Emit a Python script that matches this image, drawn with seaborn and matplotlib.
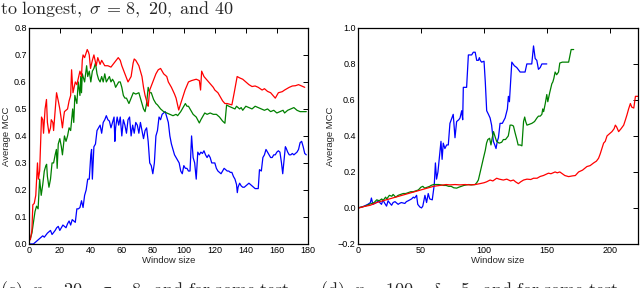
"""Average MCC against window size, two panels, rebuilt with seaborn."""

import matplotlib

matplotlib.use("Agg")
import matplotlib.pyplot as plt  # noqa: E402
import numpy as np  # noqa: E402
import seaborn as sns  # noqa: E402

# ---- panel (c): window size 0..180 -------------------------------------
c_blue_x = [1, 3, 5, 7, 9, 10, 12, 13, 14, 15, 17, 18, 19, 20, 21, 22, 23, 24, 25, 26,
            27, 28, 29, 30, 31, 32, 33, 34, 35, 36, 37, 38, 39, 40, 40.5, 41, 42, 43, 44,
            45, 46, 47, 48, 49, 50, 51, 52, 53, 54, 55, 55.5, 56, 57, 58, 59, 60, 61, 62,
            63, 64, 65, 66, 67, 68, 69, 70, 71, 72, 73, 74, 75, 76, 77, 78, 79, 80, 81,
            82, 83, 84, 85, 86, 88, 89, 90, 91, 92, 93, 94, 95, 96, 97, 98, 99, 100, 101,
            102, 103, 104, 105, 106, 107, 108, 109, 110, 111, 112, 113, 114, 115, 116,
            117, 118, 119, 120, 121, 122, 123, 124, 125, 126, 127, 128, 129, 130, 131,
            132, 133, 134, 134.5, 135, 136, 137, 138, 139, 140, 141, 142, 143, 144, 145,
            146, 147, 148, 148.8, 150, 151, 152, 153, 154, 155, 156, 157, 158, 159, 160,
            161, 162, 163, 163.8, 164.5, 165.5, 166, 167, 168, 169, 170, 171, 172, 173,
            174, 175, 176, 177, 178, 179]
c_blue_y = [0.0, 0.0, 0.01, 0.02, 0.03, 0.025, 0.04, 0.045, 0.05, 0.035, 0.05, 0.06, 0.065,
            0.05, 0.06, 0.07, 0.065, 0.06, 0.075, 0.085, 0.07, 0.09, 0.085, 0.08, 0.13, 0.13,
            0.135, 0.16, 0.135, 0.18, 0.2, 0.24, 0.24, 0.33, 0.35, 0.24, 0.36, 0.37, 0.42,
            0.43, 0.44, 0.41, 0.45, 0.46, 0.475, 0.46, 0.455, 0.43, 0.45, 0.47, 0.38, 0.43,
            0.47, 0.44, 0.47, 0.40, 0.46, 0.44, 0.41, 0.46, 0.47, 0.40, 0.44, 0.41, 0.45,
            0.44, 0.41, 0.45, 0.42, 0.39, 0.42, 0.43, 0.38, 0.30, 0.29, 0.26, 0.30, 0.40,
            0.42, 0.47, 0.46, 0.48, 0.49, 0.47, 0.45, 0.40, 0.37, 0.35, 0.33, 0.32, 0.31,
            0.30, 0.27, 0.26, 0.29, 0.28, 0.28, 0.27, 0.27, 0.40, 0.32, 0.30, 0.24, 0.34,
            0.33, 0.34, 0.335, 0.345, 0.33, 0.32, 0.33, 0.32, 0.30, 0.30, 0.30, 0.28, 0.27,
            0.265, 0.26, 0.27, 0.28, 0.275, 0.27, 0.27, 0.265, 0.265, 0.25, 0.24, 0.22, 0.19,
            0.21, 0.225, 0.215, 0.21, 0.21, 0.215, 0.22, 0.225, 0.22, 0.215, 0.21, 0.205,
            0.205, 0.205, 0.275, 0.27, 0.32, 0.33, 0.35, 0.34, 0.33, 0.32, 0.32, 0.33, 0.33,
            0.34, 0.345, 0.34, 0.30, 0.26, 0.30, 0.36, 0.355, 0.34, 0.33, 0.33, 0.335, 0.33,
            0.335, 0.34, 0.35, 0.375, 0.38, 0.36, 0.335, 0.33]

c_green_x = [1, 2, 3, 4, 5, 6, 7, 8, 9, 10, 11, 11.5, 12, 13, 14, 15, 16, 17, 17.8, 18.3,
             19, 20, 21, 21.7, 23, 24, 25, 26, 27, 28.3, 29, 29.7, 31, 31.9, 33, 33.5, 34,
             34.5, 36, 37.3, 38, 39, 40, 41, 42, 43, 44, 45, 46, 47, 48, 49, 50, 51, 52, 53,
             54, 55, 56, 57, 58, 59, 60, 61, 62, 63, 64.6, 66, 67.4, 69, 71, 72, 73, 74, 75,
             76, 77, 78, 79, 80.5, 82, 83, 85, 87, 89, 91, 93, 95, 96, 98, 101, 102, 103,
             104, 106, 108, 110, 111, 113.5, 115, 117, 119, 121, 123, 125, 126.5, 127.6,
             129, 131, 133, 134, 136, 137, 138, 140, 142, 144, 146, 148, 150, 152, 154, 156,
             158, 160, 162, 164, 165, 167, 169, 171, 173, 175, 177, 179]
c_green_y = [0.02, 0.04, 0.08, 0.12, 0.14, 0.13, 0.24, 0.18, 0.22, 0.27, 0.29, 0.295, 0.25,
             0.21, 0.24, 0.30, 0.30, 0.33, 0.35, 0.28, 0.37, 0.39, 0.36, 0.33, 0.40, 0.38,
             0.40, 0.43, 0.42, 0.50, 0.45, 0.55, 0.52, 0.60, 0.55, 0.62, 0.56, 0.63, 0.60,
             0.66, 0.62, 0.64, 0.60, 0.64, 0.65, 0.67, 0.63, 0.61, 0.60, 0.62, 0.60, 0.63,
             0.60, 0.61, 0.62, 0.60, 0.61, 0.60, 0.58, 0.59, 0.60, 0.60, 0.58, 0.55, 0.54,
             0.54, 0.52, 0.54, 0.56, 0.555, 0.56, 0.54, 0.52, 0.50, 0.49, 0.52, 0.58, 0.56,
             0.56, 0.535, 0.52, 0.515, 0.50, 0.49, 0.485, 0.48, 0.475, 0.48, 0.475, 0.49,
             0.52, 0.51, 0.51, 0.50, 0.48, 0.47, 0.448, 0.46, 0.485, 0.48, 0.485, 0.48, 0.48,
             0.47, 0.455, 0.447, 0.515, 0.51, 0.505, 0.50, 0.51, 0.50, 0.505, 0.495, 0.51,
             0.505, 0.50, 0.51, 0.505, 0.50, 0.495, 0.50, 0.49, 0.495, 0.485, 0.49, 0.495,
             0.485, 0.495, 0.50, 0.505, 0.495, 0.49, 0.49, 0.49]

c_red_x = [1, 2, 2.6, 3.5, 4.5, 5.6, 6.2, 7, 8.2, 9, 9.5, 10.5, 11.4, 12, 13, 14, 14.5,
           15.5, 16, 17.9, 19, 20, 21, 21.7, 22.5, 23, 25, 26, 27, 27.6, 28.5, 30, 31, 33,
           34, 34.5, 35, 36, 37.7, 38.5, 39, 39.8, 41, 42, 43.5, 44.5, 46, 47, 49, 51, 53,
           55, 57.7, 59, 60, 62, 64, 66, 67.3, 68, 69, 71, 73, 74, 75, 76.5, 77, 78, 80,
           82, 83.5, 85, 87, 89, 90, 92, 94, 95, 96.7, 98, 100.8, 103, 105, 108, 110,
           110.8, 111.5, 113, 116, 119, 120, 122, 124, 125, 126.5, 128, 131, 132.5, 134.4,
           136, 138, 140, 142, 144, 146, 148, 150.5, 152, 154, 156, 157.5, 159, 160, 161,
           163.5, 165, 168, 170, 172, 174, 176, 178]
c_red_y = [0.015, 0.05, 0.145, 0.15, 0.18, 0.30, 0.24, 0.27, 0.47, 0.46, 0.41, 0.50, 0.535,
           0.45, 0.41, 0.43, 0.46, 0.45, 0.42, 0.56, 0.53, 0.50, 0.46, 0.43, 0.47, 0.49,
           0.50, 0.53, 0.55, 0.645, 0.56, 0.60, 0.59, 0.64, 0.62, 0.68, 0.70, 0.69, 0.72,
           0.71, 0.70, 0.65, 0.68, 0.70, 0.66, 0.69, 0.665, 0.68, 0.66, 0.66, 0.655, 0.67,
           0.69, 0.68, 0.66, 0.63, 0.60, 0.62, 0.67, 0.685, 0.68, 0.66, 0.62, 0.58, 0.55,
           0.52, 0.51, 0.57, 0.60, 0.63, 0.645, 0.65, 0.63, 0.62, 0.60, 0.58, 0.555, 0.54,
           0.496, 0.52, 0.57, 0.60, 0.605, 0.61, 0.605, 0.57, 0.64, 0.62, 0.60, 0.58, 0.57,
           0.56, 0.54, 0.53, 0.52, 0.52, 0.515, 0.56, 0.62, 0.615, 0.61, 0.60, 0.59, 0.583,
           0.585, 0.58, 0.57, 0.575, 0.565, 0.56, 0.55, 0.54, 0.55, 0.56, 0.564, 0.57,
           0.58, 0.585, 0.586, 0.59, 0.585, 0.58]

# ---- panel (d): window size 0..222 -------------------------------------
d_blue_x = [0, 3, 5, 8, 10, 10.8, 12, 14.8, 16, 18.8, 20, 21, 22.8, 24, 25, 26.8, 28, 29.5,
            32, 33, 34.5, 37.3, 38.5, 40, 42.6, 44, 45, 46.6, 47.5, 49.2, 50.5, 51.5, 53.2,
            54.5, 55.8, 57, 59, 60.6, 61.5, 62.4, 63.5, 65.9, 66.8, 67.7, 69, 70.4, 71.7,
            73, 75.6, 77, 78.3, 80, 81, 82.3, 83.1, 83.6, 86.2, 87.6, 90.2, 91.5, 93, 94.2,
            95.5, 96.3, 97, 98.1, 100, 101, 102.1, 103.5, 104.8, 106, 107.4, 108.5, 109.5,
            110.5, 111.4, 112.7, 114.5, 116.7, 118.5, 119.3, 120.1, 122, 124, 125.9, 127,
            128.6, 130.5, 132.5, 133.9, 135.5, 137.8, 139.2, 140.5, 141.8, 143.1, 144.5,
            145.8, 148, 149.7]
d_blue_y = [0.0, 0.005, 0.01, 0.02, 0.03, 0.055, 0.02, 0.03, 0.04, 0.02, 0.045, 0.03, 0.01,
            0.04, 0.03, 0.015, 0.03, 0.035, 0.02, 0.025, 0.03, 0.025, 0.035, 0.04, 0.05,
            0.06, 0.055, 0.07, 0.02, 0.005, 0.0, 0.01, 0.07, 0.03, 0.08, 0.05, 0.045, 0.13,
            0.25, 0.16, 0.2, 0.37, 0.27, 0.36, 0.33, 0.35, 0.35, 0.47, 0.52, 0.39, 0.48,
            0.49, 0.50, 0.54, 0.49, 0.67, 0.67, 0.85, 0.85, 0.865, 0.865, 0.82, 0.82, 0.835,
            0.82, 0.81, 0.815, 0.70, 0.54, 0.52, 0.50, 0.46, 0.37, 0.35, 0.33, 0.37, 0.39,
            0.47, 0.47, 0.50, 0.55, 0.62, 0.59, 0.81, 0.79, 0.78, 0.77, 0.755, 0.755, 0.755,
            0.80, 0.80, 0.80, 0.90, 0.83, 0.82, 0.77, 0.78, 0.80, 0.80, 0.80]

d_green_x = [0, 3, 6, 9, 11, 13, 15, 17, 19, 20, 22, 23, 25, 27, 28, 30, 32, 34, 36, 38, 40,
             42, 44, 46, 48, 50, 51.5, 53, 55, 57, 58, 60, 62, 64, 66, 68, 70, 72, 74, 76,
             78.3, 80, 82, 84, 86.2, 88, 90, 92.9, 94.2, 95.5, 97, 99.5, 101, 102, 103,
             104.4, 105.5, 106.5, 107.5, 109, 110, 112, 114, 115.3, 117, 119.2, 120, 120.6,
             122, 123.3, 124.5, 126, 127, 128.6, 130, 131.3, 132.2, 133, 134, 136, 137.9,
             140, 141.9, 143.1, 144.5, 145.8, 146.5, 147.2, 148.5, 149.7, 150.5, 152, 153.7,
             154.5, 155.3, 156.3, 157.5, 159, 160, 162, 165, 167, 169, 171]
d_green_y = [0.0, 0.005, 0.01, 0.02, 0.025, 0.03, 0.045, 0.04, 0.05, 0.04, 0.06, 0.05, 0.07,
             0.065, 0.075, 0.06, 0.07, 0.075, 0.08, 0.08, 0.085, 0.09, 0.09, 0.095, 0.10,
             0.115, 0.12, 0.11, 0.115, 0.12, 0.125, 0.13, 0.13, 0.13, 0.128, 0.125, 0.125,
             0.12, 0.12, 0.112, 0.11, 0.115, 0.12, 0.125, 0.128, 0.13, 0.128, 0.13, 0.14,
             0.155, 0.20, 0.276, 0.32, 0.36, 0.38, 0.387, 0.35, 0.39, 0.424, 0.39, 0.37, 0.36,
             0.365, 0.38, 0.38, 0.40, 0.43, 0.46, 0.46, 0.455, 0.42, 0.38, 0.35, 0.35, 0.345,
             0.48, 0.505, 0.48, 0.46, 0.465, 0.47, 0.48, 0.50, 0.51, 0.51, 0.52, 0.55, 0.535,
             0.58, 0.63, 0.59, 0.64, 0.69, 0.70, 0.72, 0.755, 0.74, 0.755, 0.805, 0.81, 0.81,
             0.81, 0.88, 0.88]

d_red_x = [1, 5, 10, 15, 20, 25, 30, 35, 40, 45, 50, 55, 60, 65, 70, 73, 77, 81, 85, 88.9,
           93, 96.8, 100, 102, 104.8, 107, 110, 112, 115.3, 118, 121, 123.3, 125, 127.2,
           129, 131.3, 134, 137, 139.2, 142, 144.5, 147, 151, 153, 156.3, 158, 160, 162,
           164, 167, 170, 172.3, 174.9, 178, 181.5, 184, 186.8, 189, 190.7, 192, 194.7,
           196, 197.4, 199, 201.3, 203, 204, 205, 206.6, 208.5, 210.6, 212, 213.2, 214.5,
           215.9, 217, 218.6, 219.9, 222]
d_red_y = [0.0, 0.008, 0.015, 0.03, 0.04, 0.05, 0.06, 0.07, 0.08, 0.09, 0.10, 0.11, 0.12,
           0.125, 0.13, 0.128, 0.13, 0.128, 0.13, 0.128, 0.13, 0.135, 0.14, 0.145, 0.155,
           0.15, 0.165, 0.16, 0.155, 0.16, 0.15, 0.155, 0.145, 0.135, 0.145, 0.155, 0.16,
           0.158, 0.165, 0.165, 0.175, 0.18, 0.193, 0.19, 0.20, 0.195, 0.20, 0.19, 0.18,
           0.174, 0.178, 0.18, 0.20, 0.21, 0.23, 0.235, 0.25, 0.26, 0.276, 0.30, 0.36, 0.37,
           0.40, 0.41, 0.424, 0.44, 0.46, 0.45, 0.424, 0.44, 0.46, 0.49, 0.517, 0.55, 0.58,
           0.56, 0.555, 0.62, 0.62]

sns.set_style("white")
plt.rcParams["font.family"] = ["Liberation Sans", "DejaVu Sans"]
plt.rcParams["mathtext.fontset"] = "cm"


def style_axes(ax):
    for s in ax.spines.values():
        s.set_color("black")
        s.set_linewidth(0.9)
    ax.tick_params(direction="in", length=3.5, width=0.7, top=True, right=True,
                   labelsize=6.5, pad=1.5, colors="black")
    ax.set_xlabel("Window size", fontsize=6.8, labelpad=1)
    ax.set_ylabel("Average MCC", fontsize=6.8, labelpad=2)


fig = plt.figure(figsize=(6.4, 2.88), dpi=100)
ax_c = fig.add_axes([0.045, 0.153, 0.436, 0.75])
ax_d = fig.add_axes([0.559, 0.153, 0.438, 0.75])

for xs, ys, col in [(c_blue_x, c_blue_y, "#0000ff"), (c_green_x, c_green_y, "#008000"),
                    (c_red_x, c_red_y, "#ff0000")]:
    sns.lineplot(x=xs, y=ys, ax=ax_c, color=col, linewidth=0.9, estimator=None, sort=False)
ax_c.set_xlim(0, 180)
ax_c.set_ylim(0, 0.8)
ax_c.set_xticks(range(0, 181, 20))
ax_c.set_yticks(np.round(np.arange(0, 0.81, 0.1), 1))
ax_c.set_yticklabels([f"{v:.1f}" for v in np.arange(0, 0.81, 0.1)])
style_axes(ax_c)

for xs, ys, col in [(d_blue_x, d_blue_y, "#0000ff"), (d_green_x, d_green_y, "#008000"),
                    (d_red_x, d_red_y, "#ff0000")]:
    sns.lineplot(x=xs, y=ys, ax=ax_d, color=col, linewidth=0.9, estimator=None, sort=False)
ax_d.set_xlim(0, 222)
ax_d.set_ylim(-0.2, 1.0)
ax_d.set_xticks([0, 50, 100, 150, 200])
ax_d.set_yticks(np.round(np.arange(-0.2, 1.01, 0.2), 1))
ax_d.set_yticklabels([f"{v:.1f}".replace("-", "\u2212") for v in np.arange(-0.2, 1.01, 0.2)])
style_axes(ax_d)

# caption text of the surrounding page, partly cut by the crop
fig.text(0.0, 0.95, r"$\mathrm{to\ longest,}\ \sigma\, =\, 8,\ 20,\ \mathrm{and}\ 40$",
         fontsize=13, va="baseline", ha="left")
fig.text(0.0, -0.024, r"$\mathrm{(c)}\ \ n = 20,\ \ \sigma = 8,\ \mathrm{and\ for\ some\ test}$",
         fontsize=13, va="baseline", ha="left")
fig.text(0.5, -0.024, r"$\mathrm{(d)}\ \ n = 100,\ \ \delta = 5,\ \mathrm{and\ for\ some\ test}$",
         fontsize=13, va="baseline", ha="left")

fig.savefig("out.png", dpi=100)
